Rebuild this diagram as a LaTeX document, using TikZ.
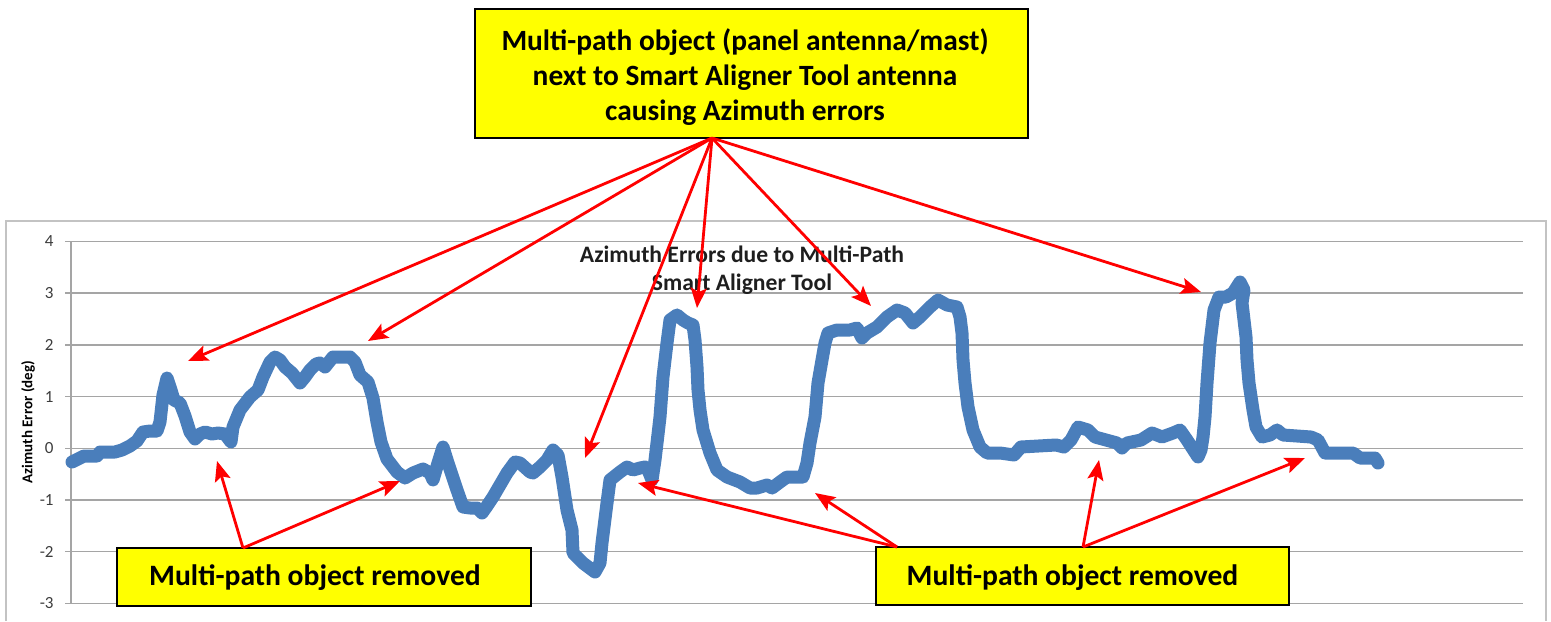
\documentclass[tikz,border=0pt]{standalone}
\usepackage{fontspec}
\setmainfont{Carlito}
\usetikzlibrary{arrows.meta}
\definecolor{serieblue}{RGB}{74,126,187}
\definecolor{gridgray}{RGB}{165,165,165}
\definecolor{framegray}{RGB}{195,195,195}
\definecolor{boxyellow}{RGB}{255,255,0}
\definecolor{arrowred}{RGB}{255,0,0}
\definecolor{ticktext}{RGB}{60,60,60}
\tikzset{
  calloutbox/.style={draw=black, line width=1pt, fill=boxyellow, inner sep=0pt},
  callouttext/.style={align=center, inner sep=0pt, text=black},
  pointer/.style={draw=arrowred, line width=1.4pt, -{Stealth[length=10pt,width=8pt,inset=2pt]}},
  gridline/.style={draw=gridgray, line width=0.75pt},
  ticklabel/.style={anchor=east, inner sep=0pt, text=ticktext, font=\fontsize{8.5pt}{10pt}\selectfont},
  series/.style={draw=serieblue, line width=6.5pt, line join=round, line cap=round},
}
\begin{document}
\begin{tikzpicture}[x=0.5pt,y=-0.5pt]
\useasboundingbox (0,0) rectangle (1551,621);
% chart frame
\draw[draw=framegray, line width=1pt] (6,621) -- (6,221) -- (1546,221) -- (1546,621);
% gridlines and ticks
\foreach \v/\lab in {4/4,3/3,2/2,1/1,0/0,-1/-1,-2/-2,-3/-3}{
  \draw[gridline] (65,{448.3-51.7*\v}) -- (1523,{448.3-51.7*\v});
  \node[ticklabel] (tick\lab) at (54,{448.3-51.7*\v}) {\lab};
}
\draw[gridline] (71,241) -- (71,604);
\node[rotate=90, font=\bfseries\fontsize{7.5pt}{9pt}\selectfont, text=black] (ytitle) at (28,422) {Azimuth Error (deg)};
\node[font=\bfseries\fontsize{11.8pt}{14pt}\selectfont, align=center, text={rgb,255:red,30;green,30;blue,30}, inner sep=0pt] (ctitle) at (742,270) {Azimuth Errors due to Multi-Path\\Smart Aligner Tool};
% data series
\draw[series] (72,462) -- (80,458) -- (84,456) -- (97,456) -- (100,452) -- (115,452) -- (122,450) -- (130,446) -- (137,441) -- (143,432) -- (150,431) -- (157,431) -- (160,422) -- (163,395) -- (167,378) -- (171,390) -- (174,400) -- (180,403) -- (185,416) -- (190,432) -- (195,439) -- (200,434) -- (205,432) -- (212,434) -- (218,433) -- (225,434) -- (231,442) -- (233,427) -- (240,410) -- (250,397) -- (258,390) -- (263,377) -- (270,362) -- (275,357) -- (280,360) -- (285,367) -- (292,373) -- (300,383) -- (305,377) -- (310,370) -- (316,364) -- (320,363) -- (325,367) -- (333,357) -- (345,357) -- (350,357) -- (355,362) -- (360,375) -- (368,382) -- (373,398) -- (377,422) -- (381,442) -- (387,459) -- (397,472) -- (405,478) -- (413,473) -- (423,469) -- (430,473) -- (433,480) -- (438,463) -- (443,447) -- (448,463) -- (457,490) -- (463,507) -- (470,508) -- (477,508) -- (482,513) -- (487,506) -- (493,497) -- (500,485) -- (507,473) -- (515,462) -- (520,463) -- (530,472) -- (533,473) -- (540,467) -- (547,460) -- (553,450) -- (558,455) -- (562,477) -- (567,510) -- (572,530) -- (573,553) -- (583,563) -- (595,572) -- (600,563) -- (602,543) -- (607,503) -- (610,480) -- (620,472) -- (627,467) -- (633,470) -- (640,468) -- (645,467) -- (648,470) -- (652,480) -- (655,460) -- (657,443) -- (660,417) -- (663,377) -- (667,343) -- (670,320) -- (677,315) -- (683,320) -- (688,323) -- (693,325) -- (695,340) -- (697,367) -- (698,390) -- (700,410) -- (703,430) -- (710,453) -- (717,470) -- (727,477) -- (740,482) -- (750,488) -- (757,488) -- (767,485) -- (772,488) -- (780,482) -- (787,477) -- (793,477) -- (803,477) -- (807,463) -- (810,443) -- (815,417) -- (818,383) -- (822,360) -- (825,343) -- (828,333) -- (837,330) -- (850,330) -- (857,328) -- (862,338) -- (867,333) -- (877,327) -- (887,317) -- (897,310) -- (905,313) -- (913,323) -- (920,317) -- (930,307) -- (938,300) -- (947,305) -- (957,307) -- (960,317) -- (962,333) -- (963,360) -- (965,383) -- (968,407) -- (973,430) -- (980,447) -- (987,453) -- (1000,453) -- (1014,455) -- (1021,447) -- (1056,445) -- (1064,447) -- (1071,440) -- (1078,427) -- (1088,430) -- (1095,437) -- (1106,440) -- (1117,443) -- (1122,448) -- (1127,443) -- (1141,440) -- (1152,433) -- (1162,437) -- (1173,433) -- (1180,430) -- (1187,440) -- (1198,457) -- (1201,450) -- (1203,437) -- (1205,417) -- (1207,383) -- (1210,343) -- (1214,310) -- (1219,297) -- (1226,297) -- (1233,293) -- (1240,282) -- (1244,290) -- (1242,303) -- (1244,320) -- (1246,337) -- (1247,360) -- (1249,383) -- (1253,410) -- (1256,427) -- (1262,437) -- (1270,435) -- (1277,430) -- (1283,435) -- (1311,437) -- (1318,440) -- (1325,453) -- (1353,453) -- (1360,458) -- (1375,458) -- (1378,463);
% callout boxes
\node[calloutbox, minimum width=276.5pt, minimum height=64.5pt] (topbox) at (751.5,73.5) {};
\node[callouttext, font=\bfseries\fontsize{14.7pt}{17.5pt}\selectfont] (toptext) at (745,77) {Multi-path object (panel antenna/mast)\\next to Smart Aligner Tool antenna\\causing Azimuth errors};
\node[calloutbox, minimum width=207pt, minimum height=29pt] (leftbox) at (324,577) {};
\node[callouttext, font=\bfseries\fontsize{14.8pt}{16pt}\selectfont] (lefttext) at (315,578) {Multi-path object removed};
\node[calloutbox, minimum width=206.5pt, minimum height=29pt] (rightbox) at (1082.5,576) {};
\node[callouttext, font=\bfseries\fontsize{14.8pt}{16pt}\selectfont] (righttext) at (1072.5,578) {Multi-path object removed};
% arrow sources and targets
\coordinate (topsrc) at (712,138);
\coordinate (lsrc) at (243,548);
\coordinate (rsrcA) at (897,547);
\coordinate (rsrcB) at (1083,547);
\coordinate (t1) at (188,361);
\coordinate (t2) at (368,341);
\coordinate (t3) at (585,458);
\coordinate (t4) at (697,308);
\coordinate (t5) at (871,306);
\coordinate (t6) at (1201,292);
\coordinate (l1) at (217,461);
\coordinate (l2) at (400,481);
\coordinate (r1) at (638,483);
\coordinate (r2) at (815,493);
\coordinate (r3) at (1099,460);
\coordinate (r4) at (1305,458);
\foreach \t in {t1,t2,t3,t4,t5,t6}{\draw[pointer] (topsrc) -- (\t);}
\foreach \t in {l1,l2}{\draw[pointer] (lsrc) -- (\t);}
\foreach \t in {r1,r2}{\draw[pointer] (rsrcA) -- (\t);}
\foreach \t in {r3,r4}{\draw[pointer] (rsrcB) -- (\t);}
\end{tikzpicture}
\end{document}
